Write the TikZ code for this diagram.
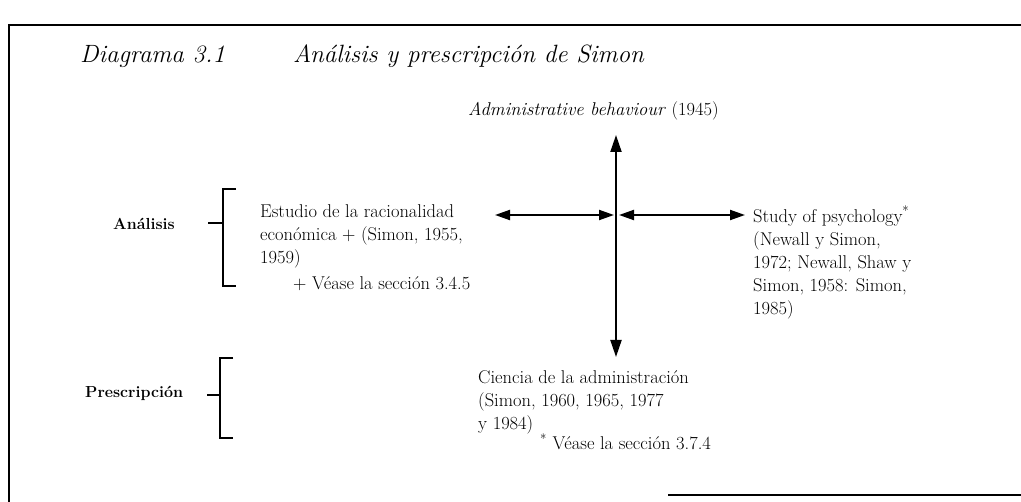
\documentclass[tikz,border=0pt]{standalone}
\usepackage{fontspec}
\usetikzlibrary{arrows.meta}
\newcommand{\heavier}{\addfontfeature{FakeBold=0.6}}
\begin{document}
\begin{tikzpicture}[x=1pt,y=-1pt,
  body/.style={font=\fontsize{18.5}{23}\selectfont\heavier, inner sep=0pt, anchor=north west, align=left},
  bodyline/.style={font=\fontsize{18.5}{23}\selectfont\heavier, inner sep=0pt, anchor=base west},
  titletxt/.style={font=\fontsize{25}{30}\selectfont\itshape\heavier, inner sep=0pt, anchor=base west},
  sidelabel/.style={font=\fontsize{16}{20}\selectfont\bfseries, inner sep=0pt, anchor=base west},
  arr/.style={line width=2pt, {Triangle[length=17pt,width=11pt]}-{Triangle[length=17pt,width=11pt]}},
  harr/.style={line width=2pt, {Triangle[length=15pt,width=10pt]}-{Triangle[length=15pt,width=10pt]}},
  frameline/.style={line width=1.4pt},
  bracket/.style={line width=1.8pt}
]
\useasboundingbox (0,0) rectangle (1021,502);
\fill[white] (0,0) rectangle (1021,502);

% frame
\draw[frameline] (9,502) -- (9,25) -- (1021,25);
\draw[frameline] (668,495) -- (1021,495);

% title
\node[titletxt] (t1) at (80,63) {Diagrama 3.1};
\node[titletxt] (t2) at (293,63) {Análisis y prescripción de Simon};

% top label
\node[bodyline] (adm) at (468,116) {\textit{Administrative behaviour} (1945)};

% left block
\node[body] (est) at (260,202) {\rule{0pt}{15pt}Estudio de la racionalidad\\económica + (Simon, 1955,\\1959)};
\node[bodyline] (estnote) at (293,290) {+ Véase la sección 3.4.5};

% right block
\node[body] (study) at (753,206) {\rule{0pt}{15pt}Study of psychology\textsuperscript{*}\\(Newall y Simon,\\1972; Newall, Shaw y\\Simon, 1958: Simon,\\1985)};

% bottom block
\node[body] (cien) at (478,368) {\rule{0pt}{15pt}Ciencia de la administración\\(Simon, 1960, 1965, 1977\\y 1984)};
\node[bodyline] (ciennote) at (540,450) {\textsuperscript{*} Véase la sección 3.7.4};

% side labels
\node[sidelabel] (ana) at (113,230) {Análisis};
\node[sidelabel] (pre) at (85,398) {Prescripción};

% brackets
\draw[bracket] (236,189) -- (223,189) -- (223,286) -- (236,286);
\draw[bracket] (208,223) -- (223,223);
\draw[line width=1.5pt] (233,358) -- (220,358) -- (220,438) -- (233,438);
\draw[line width=1.5pt] (207,395) -- (220,395);

% cross of arrows
\coordinate (vtop) at (616,135);
\coordinate (vbot) at (616,357);
\coordinate (hl) at (495,215);
\coordinate (hlin) at (614,215);
\coordinate (hrin) at (619,215);
\coordinate (hr) at (745,215);
\draw[arr] (vtop) -- (vbot);
\draw[harr] (hl) -- (hlin);
\draw[harr] (hrin) -- (hr);
\end{tikzpicture}
\end{document}
